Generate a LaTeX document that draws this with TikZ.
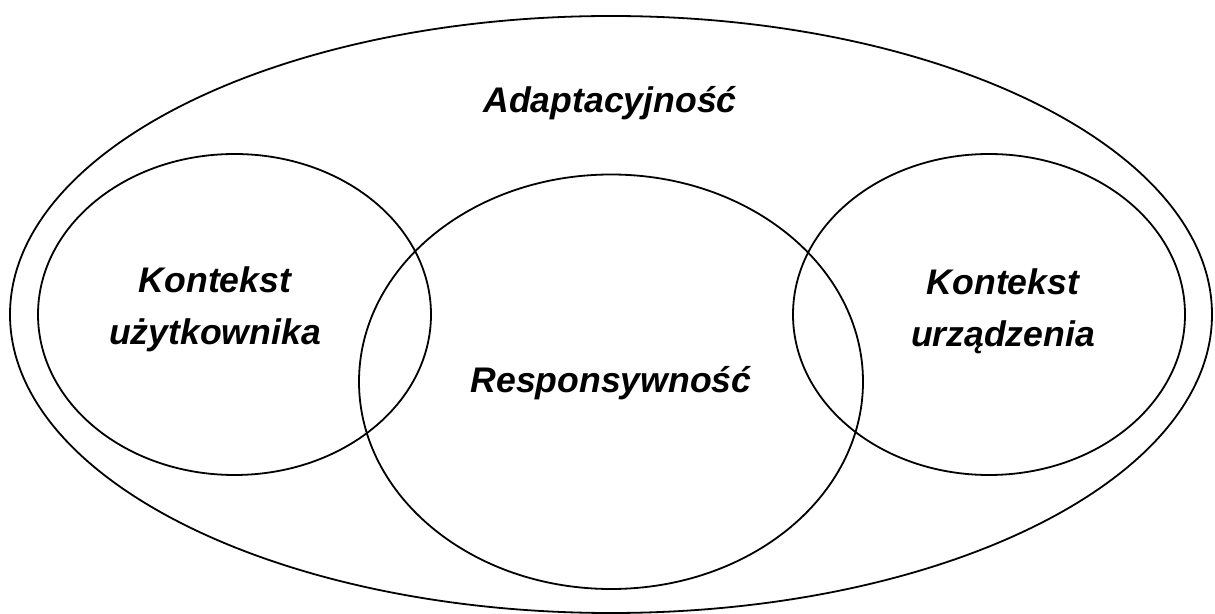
\documentclass[tikz,border=0pt]{standalone}
\usepackage{fontspec}
\setmainfont{Liberation Sans}
\usetikzlibrary{positioning}

\begin{document}
\begin{tikzpicture}[x=0.5pt,y=-0.5pt]
        \tikzstyle{every node}+=[inner sep=0pt]
        \tikzstyle{every path}+=[line width=0.9pt]
        \tikzstyle{etykieta}=[font=\fontsize{17.8}{26}\selectfont\bfseries\itshape, align=center]
        \useasboundingbox (0,0) rectangle (1215,614);
        \draw [black] (611,314.5) ellipse (601 and 298.5);
        \draw (610,113) node [etykieta, anchor=base] (adapt) {Adaptacyjność};
        \draw [black] (234.5,314.5) ellipse (196.5 and 160.5);
        \draw (215,309) node [etykieta] (uzytk) {Kontekst\\użytkownika};
        \draw [black] (611,381.75) ellipse (252 and 207.25);
        \draw (611,393) node [etykieta, anchor=base] (resp) {Responsywność};
        \draw [black] (989,314.5) ellipse (196 and 160.5);
        \draw (1003,311) node [etykieta] (urzadz) {Kontekst\\urządzenia};
\end{tikzpicture}
\end{document}
